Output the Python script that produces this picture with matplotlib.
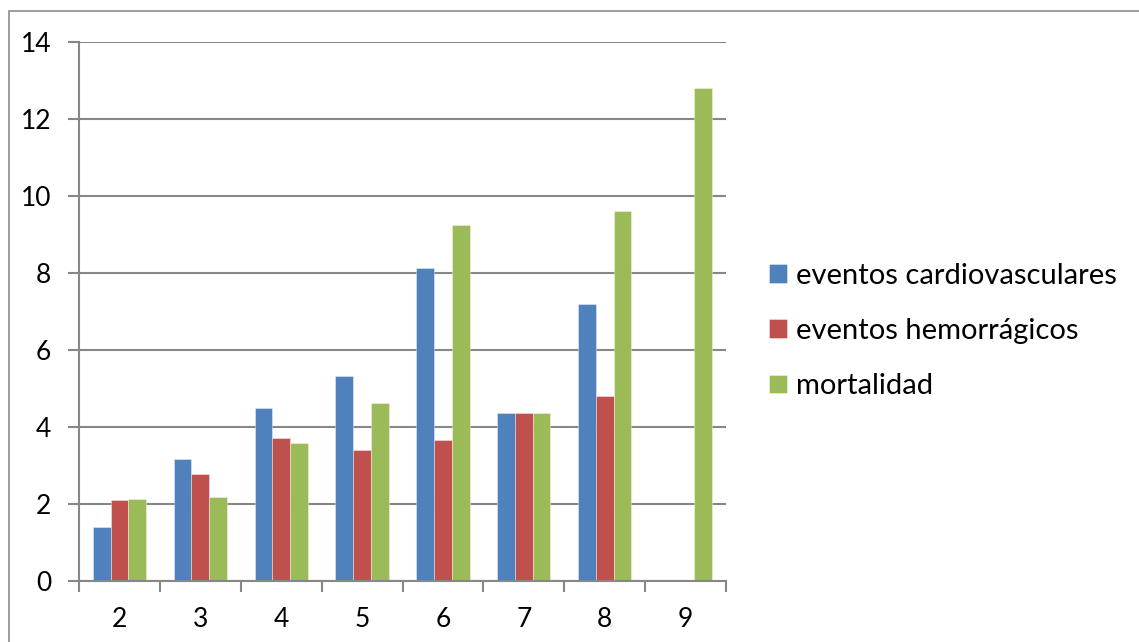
import numpy as np
import matplotlib
matplotlib.use("Agg")
import matplotlib.pyplot as plt
from matplotlib.patches import Rectangle

categories = ["2", "3", "4", "5", "6", "7", "8", "9"]
cardiovasculares = [1.39, 3.17, 4.49, 5.33, 8.12, 4.36, 7.20, 0.0]
hemorragicos = [2.10, 2.78, 3.72, 3.39, 3.67, 4.36, 4.79, 0.0]
mortalidad = [2.12, 2.18, 3.57, 4.61, 9.24, 4.36, 9.61, 12.82]
series_names = ["eventos cardiovasculares", "eventos hemorrágicos", "mortalidad"]
colors = ["#4F81BD", "#C0504D", "#9BBB59"]
yticks = [0, 2, 4, 6, 8, 10, 12, 14]

plt.rcParams["font.family"] = ["Lato", "DejaVu Sans"]

W, H = 1139, 642
fig = plt.figure(figsize=(W / 100, H / 100), dpi=100)
ax = fig.add_axes([79 / W, 1 - 580.7 / H, (726 - 79) / W, (580.7 - 42.2) / H])

grid_col = "#878787"
x = np.arange(len(categories))
bw = 0.219
for i, (vals, name, col) in enumerate(zip([cardiovasculares, hemorragicos, mortalidad], series_names, colors)):
    ax.bar(x + (i - 1) * bw, vals, width=bw, color=col, label=name,
           edgecolor=(1, 1, 1, 0.45), linewidth=0.6, zorder=3)

ax.set_xlim(-0.5, len(categories) - 0.5)
ax.set_ylim(0, 14)
ax.set_yticks(yticks)
ax.set_xticks(x)
ax.set_xticklabels(categories)
ax.set_xticks(np.arange(len(categories) + 1) - 0.5, minor=True)
ax.tick_params(axis="x", which="major", length=0, pad=19, labelsize=19)
ax.tick_params(axis="x", which="minor", length=8, width=1.5, color=grid_col, direction="out")
ax.tick_params(axis="y", length=8, width=1.5, color=grid_col, pad=12, labelsize=19)
ax.yaxis.grid(True, color=grid_col, linewidth=1.5, zorder=0)
ax.set_axisbelow(True)
for s in ["top", "right"]:
    ax.spines[s].set_visible(False)
for s in ["left", "bottom"]:
    ax.spines[s].set_color(grid_col)
    ax.spines[s].set_linewidth(1.5)
    ax.spines[s].set_zorder(4)

leg = fig.legend(loc="center left", bbox_to_anchor=(769 / W, 1 - 331 / H), frameon=False,
                 fontsize=21, handlelength=0.61, handleheight=0.61, handletextpad=0.31,
                 labelspacing=1.0, borderaxespad=0, borderpad=0)
for t in leg.get_texts():
    t.set_color("black")

# outer chart frame
fig.patches.append(Rectangle((8.5 / W, -0.1), 1.2, (1 - 11 / H) + 0.1, transform=fig.transFigure,
                             fill=False, edgecolor="#8c8c8c", linewidth=1.2, clip_on=False))

fig.savefig("out.png", dpi=100)
